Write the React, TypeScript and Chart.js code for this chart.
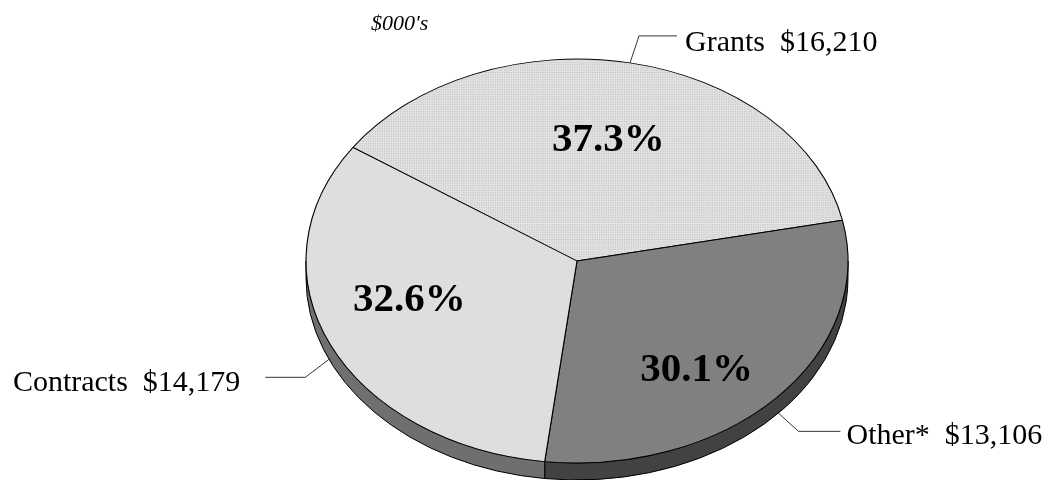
import React, { useEffect, useRef } from "react";
import { Chart, registerables } from "chart.js";

Chart.register(...registerables);

const categories = ["Grants", "Other*", "Contracts"];
const values = [16210, 13106, 14179];
const unitNote = "$000's";

const W = 1053;
const H = 480;
// ellipse geometry of the top face
const CX = 577;
const CY = 261;
const RX = 271;
const RY = 202;
const DEPTH = 17;

const topColors = ["pattern", "#808080", "#dedede"];
const sideColors = ["#9a9a9a", "#424242", "#6f6f6f"];

// per-slice percentage label placement factors (fraction of radii along mid angle)
const pctPlace = [
  { fx: 0.59, fy: 0.61 },
  { fx: 0.6, fy: 0.8 },
  { fx: 0.68, fy: 0.47 },
];
// per-slice leader line layout: elbow offset from rim anchor, horizontal length, gap to text
const calloutPlace = [
  { ex: 9, ey: -27, len: 38, gap: 8, dir: 1, rim: 0, ty: 7 },
  { ex: 22, ey: 20, len: 42, gap: 6, dir: 1, rim: 1, ty: 5 },
  { ex: -25, ey: 19, len: 40, gap: 25, dir: -1, rim: 1, ty: 6 },
];

function makePattern(): CanvasPattern | string {
  const c = document.createElement("canvas");
  c.width = 2;
  c.height = 2;
  const g = c.getContext("2d");
  if (!g) return "#d8d8d8";
  g.fillStyle = "#e4e4e4";
  g.fillRect(0, 0, 2, 2);
  g.fillStyle = "#c2c2c2";
  g.fillRect(0, 0, 1, 1);
  const p = g.createPattern(c, "repeat");
  return p || "#d8d8d8";
}

const fmtMoney = (v: number) => "$" + v.toLocaleString("en-US");

const pie3dPlugin = {
  id: "pie3d",
  beforeDatasetsDraw(chart: any) {
    const ctx: CanvasRenderingContext2D = chart.ctx;
    const meta = chart.getDatasetMeta(0);
    const arcs = meta.data;
    if (!arcs.length) return;
    // side walls (front half only)
    ctx.save();
    ctx.lineWidth = 1;
    ctx.strokeStyle = "#000";
    arcs.forEach((el: any, i: number) => {
      const { startAngle, endAngle } = el.getProps(["startAngle", "endAngle"], true);
      for (let k = -1; k <= 2; k++) {
        const lo = Math.max(startAngle, 2 * Math.PI * k);
        const hi = Math.min(endAngle, 2 * Math.PI * k + Math.PI);
        if (hi > lo) {
          ctx.beginPath();
          ctx.ellipse(CX, CY, RX, RY, 0, lo, hi, false);
          ctx.ellipse(CX, CY + DEPTH, RX, RY, 0, hi, lo, true);
          ctx.closePath();
          ctx.fillStyle = sideColors[i];
          ctx.fill();
          ctx.stroke();
        }
      }
    });
    ctx.restore();
    const el0 = arcs[0];
    const { x, y, outerRadius } = el0.getProps(["x", "y", "outerRadius"], true);
    ctx.save();
    ctx.translate(CX, CY);
    ctx.scale(RX / outerRadius, RY / outerRadius);
    ctx.translate(-x, -y);
  },
  afterDatasetsDraw(chart: any) {
    const ctx: CanvasRenderingContext2D = chart.ctx;
    ctx.restore();
    const meta = chart.getDatasetMeta(0);
    const arcs = meta.data;
    const data: number[] = chart.data.datasets[0].data;
    const total = data.reduce((a, b) => a + b, 0);
    ctx.save();
    // unit note
    ctx.fillStyle = "#000";
    ctx.font = "italic 22px 'Liberation Serif'";
    ctx.textAlign = "left";
    ctx.textBaseline = "alphabetic";
    ctx.fillText(unitNote, 371, 30);

    arcs.forEach((el: any, i: number) => {
      const { startAngle, endAngle } = el.getProps(["startAngle", "endAngle"], true);
      const mid = (startAngle + endAngle) / 2;
      const c = Math.cos(mid);
      const s = Math.sin(mid);
      // percentage
      const pp = pctPlace[i];
      const px = CX + RX * pp.fx * c;
      const py = CY + RY * pp.fy * s;
      ctx.font = "bold 41px 'Liberation Serif'";
      ctx.textAlign = "center";
      ctx.textBaseline = "middle";
      ctx.fillStyle = "#000";
      ctx.fillText(((data[i] / total) * 100).toFixed(1) + "%", px, py);
      // callout
      const cp = calloutPlace[i];
      const ax = CX + RX * c;
      const ay = CY + RY * s + (cp.rim ? DEPTH * 0.8 : 0);
      const exx = ax + cp.ex;
      const eyy = ay + cp.ey;
      const hx = exx + cp.dir * cp.len;
      ctx.beginPath();
      ctx.moveTo(ax, ay);
      ctx.lineTo(exx, eyy);
      ctx.lineTo(hx, eyy);
      ctx.strokeStyle = "#333";
      ctx.lineWidth = 1;
      ctx.stroke();
      ctx.font = "30px 'Liberation Serif'";
      ctx.textBaseline = "middle";
      ctx.textAlign = cp.dir > 0 ? "left" : "right";
      const label = categories[i] + "  " + fmtMoney(data[i]);
      ctx.fillText(label, hx + cp.dir * cp.gap, eyy + cp.ty);
    });
    ctx.restore();
  },
};

export default function App() {
  const ref = useRef<HTMLCanvasElement | null>(null);
  useEffect(() => {
    if (!ref.current) return;
    const pattern = makePattern();
    const bg = topColors.map((c) => (c === "pattern" ? pattern : c));
    const chart = new Chart(ref.current, {
      type: "pie",
      data: {
        labels: categories,
        datasets: [
          {
            data: values,
            backgroundColor: bg as any,
            borderColor: "#000",
            borderWidth: 1,
            clip: false as any,
          },
        ],
      },
      options: {
        responsive: false,
        animation: false,
        rotation: 304.2,
        layout: { padding: 0 },
        plugins: {
          legend: { display: false },
          tooltip: { enabled: false },
        },
      },
      plugins: [pie3dPlugin],
    });
    return () => chart.destroy();
  }, []);
  return (
    <div style={{ position: "fixed", left: 0, top: 0, width: W, height: H, background: "#fff" }}>
      <canvas ref={ref} width={W} height={H} style={{ width: W, height: H, display: "block" }} />
    </div>
  );
}
